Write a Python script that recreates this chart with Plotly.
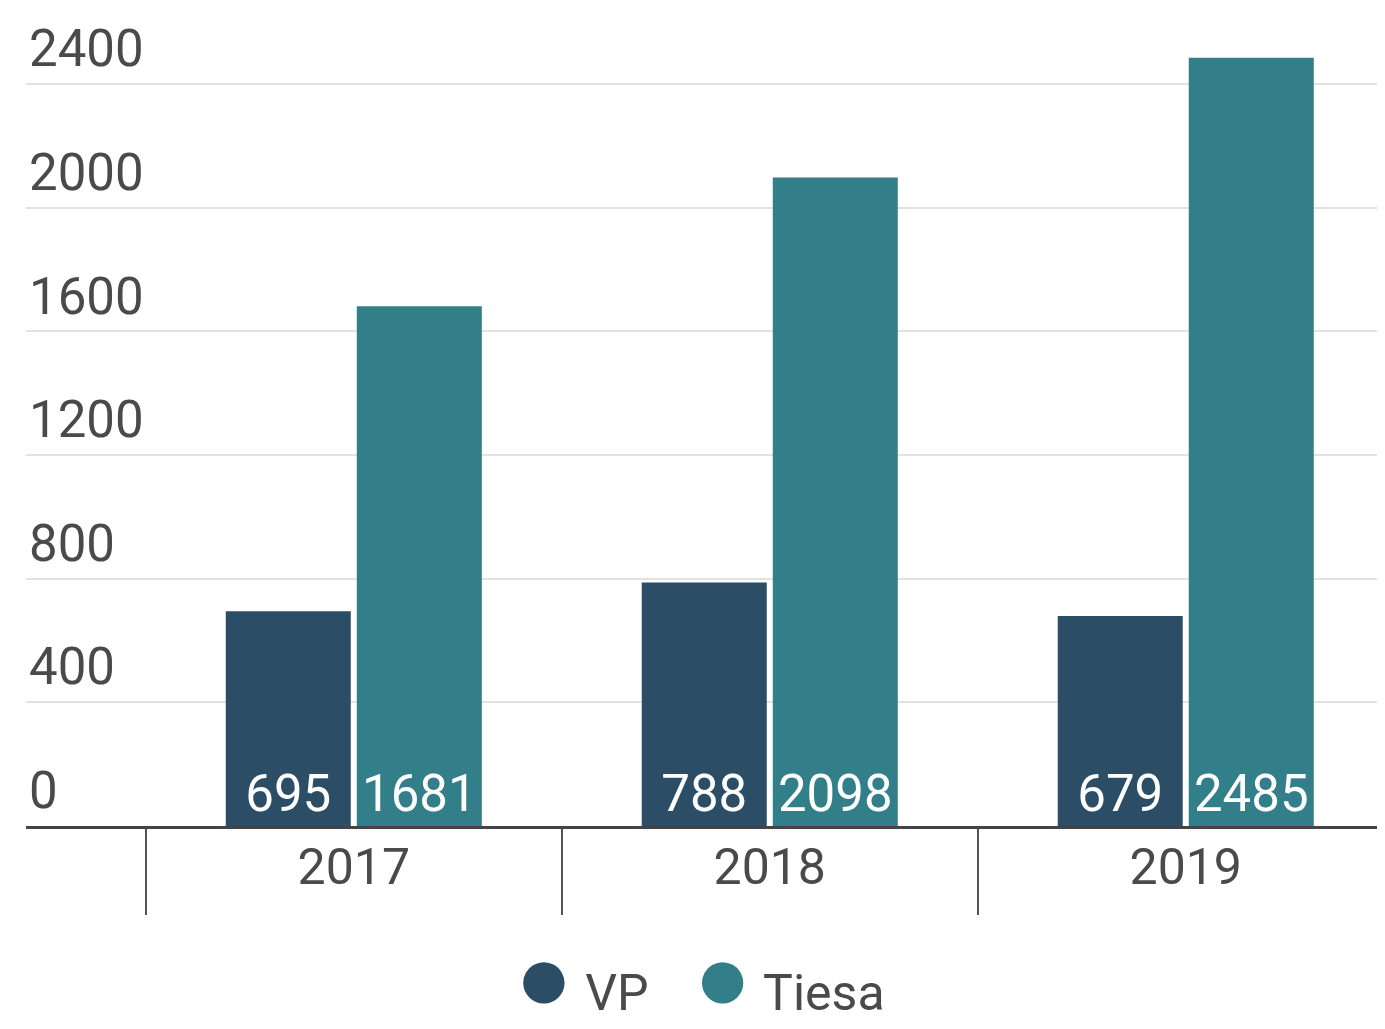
import plotly.graph_objects as go

years = ["2017", "2018", "2019"]
vp = [695, 788, 679]
tiesa = [1681, 2098, 2485]
y_ticks = [0, 400, 800, 1200, 1600, 2000, 2400]

C_VP = "#2b4e66"
C_TI = "#327f8a"
TXT = "#4a4a4a"
FONT = "Roboto, Arial, sans-serif"

fig = go.Figure()
for name, vals, col in [("VP", vp, C_VP), ("Tiesa", tiesa, C_TI)]:
    fig.add_trace(go.Bar(
        x=years, y=vals, name=name, marker=dict(color=col, line=dict(width=0)),
        text=[str(v) for v in vals], textposition="inside", insidetextanchor="start",
        textfont=dict(color="white", size=51, family=FONT), showlegend=False,
        hoverinfo="skip",
    ))
    fig.add_trace(go.Scatter(
        x=[None], y=[None], mode="markers",
        marker=dict(color="rgba(0,0,0,0)", size=2, opacity=0),
        name=f'<span style="color:{col};font-size:96px">●</span> {name}',
        showlegend=True,
    ))

fig.update_layout(
    width=1377, height=1021,
    margin=dict(l=18, r=0, t=0, b=203, autoexpand=False),
    paper_bgcolor="white", plot_bgcolor="white",
    barmode="group", bargap=0.37, bargroupgap=0.046,
    font=dict(family=FONT, color=TXT, size=50),
    uniformtext=dict(minsize=51, mode="show"),
    legend=dict(orientation="h", x=0.483, xanchor="center", y=0.0, yanchor="bottom",
                yref="container",
                font=dict(size=50, color=TXT), itemwidth=30, bgcolor="rgba(0,0,0,0)"),
    xaxis=dict(
        type="category", range=[-0.788, 2.479], tickson="boundaries",
        ticks="outside", ticklen=86, tickwidth=2, tickcolor="#555555",
        showline=True, linecolor="#444444", linewidth=3,
        showgrid=False, tickfont=dict(size=50, color=TXT),
        ticklabelstandoff=-5, automargin=False,
    ),
    yaxis=dict(
        range=[0, 2646], tickvals=y_ticks, ticktext=[str(t) for t in y_ticks],
        ticklabelposition="inside top", ticks="",
        showgrid=True, gridcolor="#e2e2e2", gridwidth=2,
        zeroline=False, showline=False,
        tickfont=dict(size=51, color=TXT), automargin=False,
    ),
)

fig.write_html("out.html")
